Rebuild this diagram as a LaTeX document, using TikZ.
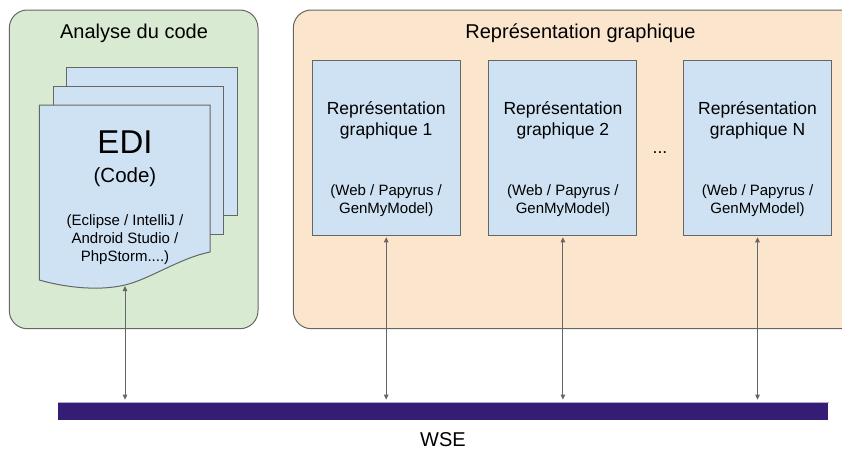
\documentclass[tikz,border=0pt]{standalone}
\usepackage{fontspec}
\setmainfont{Liberation Sans}
\usetikzlibrary{arrows.meta}
\definecolor{grn}{HTML}{D9EAD3}
\definecolor{org}{HTML}{FCE5CD}
\definecolor{blu}{HTML}{CFE2F3}
\definecolor{edgegray}{HTML}{666666}
\definecolor{barcol}{HTML}{351C75}
\definecolor{barlight}{HTML}{B4A7D6}
\begin{document}
\begin{tikzpicture}[x=1pt,y=-1pt,
  group/.style={draw=edgegray, line width=1pt, rounded corners=18pt},
  sheet/.style={draw=edgegray, fill=blu, line width=1pt},
  repbox/.style={draw=edgegray, fill=blu, line width=1pt, minimum width=148pt, minimum height=175.5pt, inner sep=0pt},
  ttl/.style={font=\fontsize{20}{24}\selectfont, inner sep=0pt},
  txt/.style={font=\fontsize{17.5}{21}\selectfont, align=center, inner sep=0pt},
  subtxt/.style={font=\fontsize{15}{18}\selectfont, align=center, inner sep=0pt},
  link/.style={draw=edgegray, line width=1pt, {Triangle[length=5pt,width=4.5pt]}-{Triangle[length=5pt,width=4.5pt]}, shorten >=2.5pt, shorten <=1pt}
]
\useasboundingbox (0,0) rectangle (842,451);

% group boxes
\draw[group, fill=grn] (9.3,10) rectangle (258,328.7);
\draw[group, fill=org] (293.3,10) rectangle (860,328.7);
\node[ttl] (t1) at (134,33) {Analyse du code};
\node[ttl] (t2) at (580.5,33) {Représentation graphique};

% EDI stack
\draw[sheet] (66,67.3) rectangle (237.3,215);
\draw[sheet] (53.3,86) rectangle (223.3,234);
\draw[sheet] (39.3,105) -- (210,105) -- (210,252)
  .. controls (180,258) and (150,279) .. (125,285)
  .. controls (95,292) and (60,286) .. (39.3,280) -- cycle;
\coordinate (edi) at (125,285);
\node[font=\fontsize{33}{36}\selectfont, inner sep=0pt] (editxt) at (125,142) {EDI};
\node[font=\fontsize{20.5}{24}\selectfont, inner sep=0pt] (code) at (125,177) {(Code)};
\node[subtxt] (tools) at (125,240) {(Eclipse / IntelliJ /\\Android Studio /\\PhpStorm....)};

% representation boxes
\node[repbox] (b1) at (386.2,148) {};
\node[repbox] (b2) at (562.9,148) {};
\node[repbox] (bN) at (757.5,148) {};
\foreach \b/\n in {b1/1, b2/2, bN/N}{
  \node[txt] (\b t) at ([yshift=27.5pt]\b.center) {Représentation\\graphique \n};
  \node[subtxt] (\b s) at ([yshift=-53pt]\b.center) {(Web / Papyrus /\\GenMyModel)};
}
\node[txt] (dots) at (660,153) {...};

% WSE bar
\node[fill=barcol, minimum width=770.6pt, minimum height=17.7pt, inner sep=0pt] (bar) at (443,411.2) {};
\draw[barlight, line width=0.8pt] (bar.north west) -- (bar.north east);
\node[ttl] (wse) at (443,440) {WSE};

% connectors
\draw[link] (edi) -- (edi |- bar.north);
\draw[link] (b1.south) -- (b1.south |- bar.north);
\draw[link] (b2.south) -- (b2.south |- bar.north);
\draw[link] (bN.south) -- (bN.south |- bar.north);
\end{tikzpicture}
\end{document}
